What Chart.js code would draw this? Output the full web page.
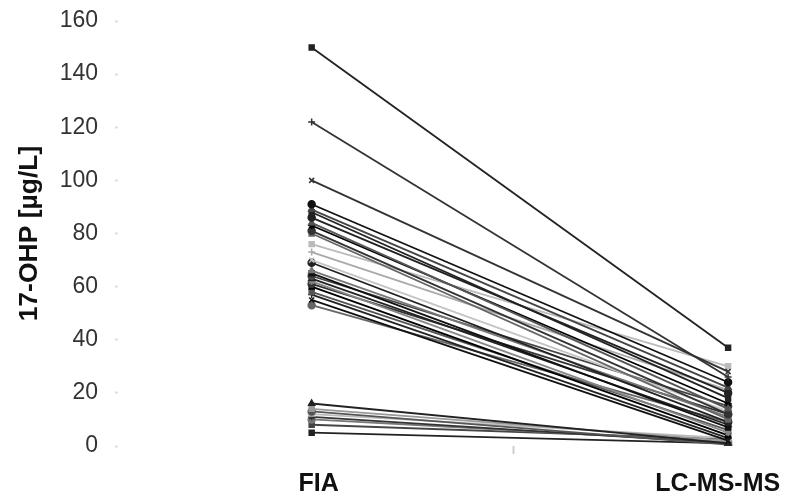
<!DOCTYPE html>
<html>
<head>
<meta charset="utf-8">
<script src="https://cdn.jsdelivr.net/npm/chart.js@4/dist/chart.umd.min.js"></script>
<style>
html,body{margin:0;padding:0;background:#fff;}
#wrap{width:789px;height:496px;position:relative;}
</style>
</head>
<body>
<div id="wrap"><canvas id="c" width="789" height="496"></canvas></div>
<script>
// ---- data ----
const categories = ['FIA', 'LC-MS-MS'];
const fiaValues  = [150, 122, 100, 91, 89, 88, 86, 84, 83, 81, 80, 76, 73, 70, 69, 66, 65, 64, 63, 62, 61, 60, 58, 57, 55, 53, 16, 14, 13, 12, 11, 10, 8, 5];
const lcmsValues = [37, 26, 28, 24, 22, 18, 20, 14, 16, 12, 10, 30, 21, 13, 9, 11, 7, 15, 8, 5, 12, 4, 6, 3, 2, 9, 1, 2, 0.5, 3, 1, 1.5, 2.5, 1];
const yTicks = [0, 20, 40, 60, 80, 100, 120, 140, 160];
const xTickPositions = [0, 0.485, 1];

// ---- styles ----
const shades = ['#222', '#333', '#333', '#111', '#444', '#222', '#222', '#555', '#000', '#333', '#666', '#bbb', '#aaa', '#c4c4c4', '#222', '#777', '#111', '#444', '#222', '#888', '#333', '#000', '#555', '#222', '#111', '#666', '#222', '#999', '#555', '#bbb', '#333', '#777', '#444', '#222'];
const styles = ['rect', 'cross', 'crossRot', 'circle', 'triangle', 'rect', 'circle', 'triangle', 'star', 'circle', 'rect'];

const datasets = fiaValues.map((v, i) => ({
  label: 'S' + (i + 1),
  data: [{x: 0, y: v}, {x: 1, y: lcmsValues[i]}],
  borderColor: shades[i % shades.length],
  backgroundColor: shades[i % shades.length],
  borderWidth: 1.8,
  pointStyle: styles[i % styles.length],
  pointRadius: 3.5,
  pointBorderWidth: 1.5,
  tension: 0
}));

new Chart(document.getElementById('c'), {
  type: 'line',
  data: { datasets },
  options: {
    responsive: false,
    animation: false,
    devicePixelRatio: 1,
    layout: { padding: { top: 21, right: 0, left: 0, bottom: 0 } },
    plugins: { legend: { display: false }, tooltip: { enabled: false } },
    scales: {
      x: {
        type: 'linear',
        min: -0.465,
        max: 1.133,
        afterBuildTicks: (s) => { s.ticks = xTickPositions.map(v => ({value: v})); },
        afterFit: (s) => { s.height = 50; s.paddingLeft = 0; s.paddingRight = 0; },
        border: { display: false },
        grid: {
          drawOnChartArea: false,
          drawTicks: true,
          tickLength: 8,
          tickColor: (ctx) => (ctx.tick && ctx.tick.value !== 0 && ctx.tick.value !== 1) ? '#cfcfcf' : 'rgba(0,0,0,0)',
          tickWidth: 2
        },
        ticks: {
          autoSkip: false,
          maxRotation: 0,
          padding: 15,
          color: '#111',
          font: { family: 'Liberation Sans, Arial, sans-serif', size: 25, weight: 'bold' },
          callback: (v) => v === 0 ? '  ' + categories[0] : (v === 1 ? categories[1] + '   ' : '')
        }
      },
      y: {
        min: 0,
        max: 160,
        afterBuildTicks: (s) => { s.ticks = yTicks.map(v => ({value: v})); },
        afterFit: (s) => { s.width = 118; s.paddingTop = 0; s.paddingBottom = 0; },
        border: { display: false },
        grid: {
          drawOnChartArea: false,
          drawTicks: true,
          tickLength: 3,
          tickColor: '#dcdcdc',
          tickWidth: 2
        },
        ticks: {
          padding: 17,
          color: '#333',
          font: { family: 'Liberation Sans, Arial, sans-serif', size: 23 }
        },
        title: {
          display: true,
          text: '17-OHP [µg/L]',
          color: '#111',
          padding: { top: 14, bottom: 0 },
          font: { family: 'Liberation Sans, Arial, sans-serif', size: 26.5, weight: 'bold' }
        }
      }
    }
  }
});
</script>
</body>
</html>
